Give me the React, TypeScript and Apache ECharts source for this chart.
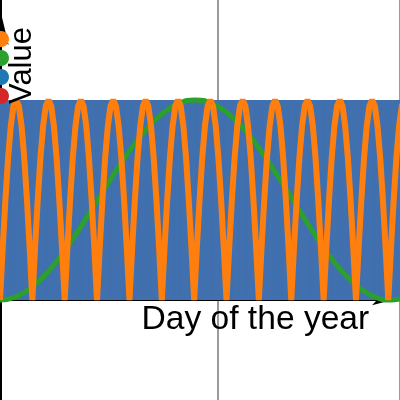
import React, { useEffect, useRef } from 'react';
import * as echarts from 'echarts';

// ---- data ----
const dayCount = 377; // days 0..376 visible
const days = Array.from({ length: dayCount }, (_, i) => i);
const barLevel = 1; // every daily bar reaches 1

// zero crossings of the orange cycle (days)
const orangeZeroDays = [0, 30.4, 60.8, 91.2, 121.7, 152.1, 182.5, 212.9, 243.3, 273.8, 304.2, 334.6, 365.0, 395.4];
// shape of one orange hump, sampled at 13 evenly spaced points between two zeros
const orangeHumpProfile = [0, 0.26, 0.5, 0.71, 0.87, 0.97, 1, 0.97, 0.87, 0.71, 0.5, 0.26, 0];

const greenDays = [0, 15.3, 30.6, 45.9, 61.2, 76.5, 91.8, 107.0, 122.3, 137.6, 152.9, 168.2, 183.5, 198.8, 214.1, 229.4, 244.7, 260.0, 275.3, 290.6, 305.8, 321.1, 336.4, 351.7, 367, 376];
const greenValues = [0, 0.017, 0.067, 0.146, 0.25, 0.371, 0.5, 0.629, 0.75, 0.854, 0.933, 0.983, 1, 0.983, 0.933, 0.854, 0.75, 0.629, 0.5, 0.371, 0.25, 0.146, 0.067, 0.017, 0, 0.005];

const markerDay = 205; // grey vertical reference line
const seriesNames = ['Monthly cycle', 'Seasonal', 'Daily', 'Events'];
const seriesColors = ['#ff7f0e', '#2ca02c', '#1f77b4', '#d62728'];
const barColor = '#4170af';
const xAxisTitle = 'Day of the year';
const yAxisTitle = 'Value';

function buildOrange(): [number, number][] {
  const pts: [number, number][] = [];
  for (let i = 0; i < orangeZeroDays.length - 1; i++) {
    const z0 = orangeZeroDays[i];
    const z1 = orangeZeroDays[i + 1];
    const n = orangeHumpProfile.length - 1;
    for (let k = i === 0 ? 0 : 1; k <= n; k++) {
      pts.push([z0 + ((z1 - z0) * k) / n, orangeHumpProfile[k]]);
    }
  }
  return pts;
}

export default function App() {
  const ref = useRef<HTMLDivElement>(null);
  useEffect(() => {
    document.body.style.margin = '0';
    const chart = echarts.init(ref.current!, undefined, { renderer: 'svg' });
    const font = '"Liberation Sans", Arial, sans-serif';
    chart.setOption({
      animation: false,
      grid: [
        { left: 0, right: 0, top: 0, bottom: 0 },
        { left: 0, right: 8, top: 0, bottom: 0 },
      ],
      xAxis: [
        {
          type: 'value', gridIndex: 0, min: 0, max: dayCount - 1, interval: markerDay,
          axisLine: { show: false }, axisTick: { show: false }, axisLabel: { show: false },
          splitLine: { show: true, lineStyle: { color: '#9a9a9a', width: 2, type: 'solid' } },
        },
        {
          type: 'value', gridIndex: 1, min: 0, max: 1,
          axisLine: { show: true, onZero: true, lineStyle: { color: '#000', width: 2 }, symbol: ['none', 'arrow'], symbolSize: [8, 20] },
          axisTick: { show: false }, axisLabel: { show: false }, splitLine: { show: false },
        },
      ],
      yAxis: [
        {
          type: 'value', gridIndex: 0, min: -0.5, max: 1.5,
          axisLine: { show: true, onZero: true, lineStyle: { color: '#000', width: 3 }, symbol: ['none', 'arrow'], symbolSize: [13, 36], symbolOffset: [0, -9] },
          axisTick: { show: false }, axisLabel: { show: false }, splitLine: { show: false },
        },
        {
          type: 'value', gridIndex: 1, min: -0.5, max: 1.5, show: false,
        },
      ],
      legend: {
        orient: 'vertical', left: -7, top: 31, padding: 0, itemWidth: 16, itemHeight: 16, itemGap: 3, icon: 'circle',
        formatter: () => '',
        data: seriesNames.map((n, i) => ({ name: n, itemStyle: { color: seriesColors[i] } })),
      },
      graphic: [
        {
          type: 'text', x: 141.5, y: 317.5, z: 10,
          style: { text: xAxisTitle, font: `33.6px ${font}`, fill: '#000', align: 'left', verticalAlign: 'middle' },
        },
        {
          type: 'text', x: 20, y: 65.5, rotation: Math.PI / 2, z: 10,
          style: { text: yAxisTitle, font: `31px ${font}`, fill: '#000', align: 'center', verticalAlign: 'middle' },
        },
      ],
      series: [
        {
          name: seriesNames[2], type: 'bar', z: 2, barWidth: 2.4,
          itemStyle: { color: barColor },
          data: days.map((d) => [d, barLevel]),
        },
        {
          name: seriesNames[1], type: 'line', z: 3, smooth: true, showSymbol: false,
          lineStyle: { color: seriesColors[1], width: 5 }, itemStyle: { color: seriesColors[1] },
          data: greenDays.map((d, i) => [d, greenValues[i]]),
        },
        {
          name: seriesNames[0], type: 'line', z: 4, showSymbol: false,
          lineStyle: { color: seriesColors[0], width: 6 }, itemStyle: { color: seriesColors[0] },
          data: buildOrange(),
        },
        {
          name: seriesNames[3], type: 'line', z: 1, showSymbol: false,
          lineStyle: { color: seriesColors[3] }, itemStyle: { color: seriesColors[3] },
          data: [],
        },
      ],
    });
    return () => chart.dispose();
  }, []);
  return <div ref={ref} style={{ position: 'fixed', left: 0, top: 0, width: 400, height: 400 }} />;
}
